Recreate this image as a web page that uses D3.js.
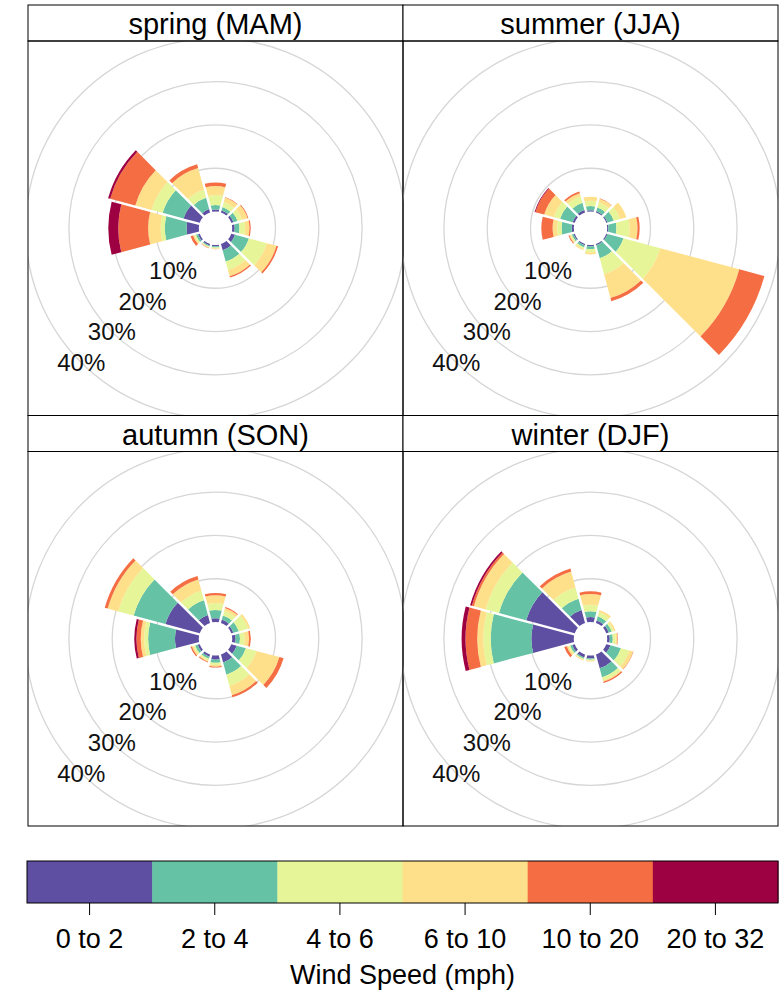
<!DOCTYPE html>
<html>
<head>
<meta charset="utf-8">
<script src="https://cdn.jsdelivr.net/npm/d3@7"></script>
<style>
  html, body { margin: 0; padding: 0; background: #fff; }
  svg { display: block; font-family: "Liberation Sans", Arial, Helvetica, sans-serif; }
</style>
</head>
<body>
<svg id="chart" width="780" height="990"></svg>
<script>
// ---------------- data ----------------
const seasons = ["spring (MAM)", "summer (JJA)", "autumn (SON)", "winter (DJF)"];
const directions = [0, 30, 60, 90, 120, 150, 180, 210, 240, 270, 300, 330];
const speedBins = ["0 to 2", "2 to 4", "4 to 6", "6 to 10", "10 to 20", "20 to 32"];
const binColors = ["#5E4FA2", "#66C2A5", "#E6F598", "#FEE08B", "#F46D43", "#9E0142"];
const ringTicks = [10, 20, 30, 40];
const ringLabels = ["10%", "20%", "30%", "40%"];
const legendTitle = "Wind Speed (mph)";

// frequency (%) per direction (rows, same order as directions) and speed bin (columns)
const springFreq = [
  [0.5, 1.0, 2.3, 2.1, 0.8, 0.0],
  [0.5, 0.8, 1.2, 1.1, 0.1, 0.0],
  [0.5, 1.0, 1.1, 1.3, 0.2, 0.0],
  [0.6, 1.1, 1.3, 1.0, 0.3, 0.0],
  [0.9, 3.3, 4.3, 2.3, 0.4, 0.0],
  [1.5, 2.7, 2.0, 1.5, 0.3, 0.0],
  [0.35, 0.25, 0.2, 0.15, 0.05, 0.0],
  [0.35, 0.25, 0.2, 0.15, 0.05, 0.0],
  [0.4, 0.5, 0.4, 0.3, 0.6, 0.0],
  [2.85, 5.0, 0.95, 2.9, 6.9, 2.3],
  [3.85, 5.0, 2.65, 3.9, 6.0, 0.5],
  [0.8, 2.7, 1.9, 5.2, 0.9, 0.0]
];
const summerFreq = [
  [0.3, 1.0, 1.2, 0.9, 0.0, 0.0],
  [0.3, 0.9, 1.2, 0.9, 0.1, 0.0],
  [0.3, 1.5, 1.5, 1.5, 0.0, 0.0],
  [0.3, 1.85, 3.05, 1.8, 0.5, 0.0],
  [0.3, 3.8, 8.8, 18.9, 6.0, 0.0],
  [0.3, 3.1, 3.8, 5.7, 0.8, 0.0],
  [0.3, 0.7, 0.7, 0.5, 0.0, 0.0],
  [0.3, 0.5, 0.4, 0.3, 0.0, 0.0],
  [0.3, 0.4, 0.3, 0.3, 0.2, 0.0],
  [0.5, 2.35, 1.0, 1.05, 2.6, 0.0],
  [0.5, 3.0, 1.5, 2.3, 2.1, 0.2],
  [0.6, 1.7, 1.5, 0.8, 0.4, 0.0]
];
const autumnFreq = [
  [0.9, 1.9, 1.6, 1.8, 0.5, 0.0],
  [0.8, 1.0, 1.1, 0.7, 0.2, 0.0],
  [0.5, 1.3, 2.2, 0.5, 0.0, 0.0],
  [0.8, 1.0, 1.1, 1.0, 0.4, 0.0],
  [1.3, 2.2, 2.5, 5.5, 1.0, 0.0],
  [1.9, 2.9, 2.7, 2.2, 0.5, 0.0],
  [1.0, 0.7, 0.5, 0.4, 0.2, 0.0],
  [0.5, 0.5, 0.4, 0.3, 0.2, 0.0],
  [0.5, 0.6, 0.4, 0.4, 0.3, 0.0],
  [5.5, 6.2, 0.9, 0.8, 1.0, 0.5],
  [8.2, 7.6, 3.7, 2.5, 0.7, 0.0],
  [1.9, 3.5, 2.3, 2.7, 0.8, 0.0]
];
const winterFreq = [
  [1.15, 1.35, 1.5, 2.5, 0.6, 0.0],
  [0.6, 1.0, 1.0, 0.5, 0.0, 0.0],
  [0.6, 0.7, 0.5, 0.4, 0.0, 0.0],
  [0.6, 0.7, 0.7, 0.4, 0.1, 0.0],
  [1.0, 2.5, 2.0, 0.9, 0.1, 0.0],
  [3.3, 2.1, 0.8, 0.3, 0.3, 0.0],
  [0.7, 0.3, 0.2, 0.2, 0.0, 0.0],
  [0.7, 0.3, 0.2, 0.2, 0.0, 0.0],
  [0.6, 0.5, 0.4, 0.4, 0.6, 0.0],
  [9.8, 9.4, 1.7, 1.4, 2.7, 0.9],
  [11.6, 6.5, 3.2, 2.8, 0.5, 0.4],
  [3.1, 2.7, 2.7, 3.8, 0.7, 0.0]
];
const seasonFreq = [springFreq, summerFreq, autumnFreq, winterFreq];

// ---------------- layout ----------------
const svg = d3.select("#chart");
const W = 780, H = 990;
svg.append("rect").attr("width", W).attr("height", H).attr("fill", "#fff");

const gridLeft = 28, gridTop = 5, panelW = 375, stripH = 36, panelH = 374.5;
const calmR = 16.7;
const r = d3.scaleLinear().domain([0, 40]).range([calmR, calmR + 4 * 43.3]);
const color = d3.scaleOrdinal().domain(speedBins).range(binColors);
const halfWidth = 15 * Math.PI / 180;

const arc = d3.arc()
  .padAngle(0.03)
  .padRadius(80);

seasons.forEach((name, si) => {
  const col = si % 2, row = Math.floor(si / 2);
  const x0 = gridLeft + col * panelW;
  const yStrip = gridTop + row * (stripH + panelH);
  const yPanel = yStrip + stripH;
  const cx = x0 + panelW / 2, cy = yPanel + panelH / 2;

  const g = svg.append("g");
  const clipId = "clip" + si;
  svg.append("clipPath").attr("id", clipId)
    .append("rect").attr("x", x0).attr("y", yPanel).attr("width", panelW).attr("height", panelH);

  const inner = g.append("g").attr("clip-path", `url(#${clipId})`);
  const plot = inner.append("g").attr("transform", `translate(${cx},${cy})`);

  // grid rings
  plot.selectAll("circle.ring").data(ringTicks).join("circle")
    .attr("class", "ring")
    .attr("r", d => r(d))
    .attr("fill", "none")
    .attr("stroke", "#d6d6d6")
    .attr("stroke-width", 1.3);

  // stacked wedges
  const rows = directions.map((dir, di) => {
    const o = { dir };
    speedBins.forEach((b, bi) => { o[b] = seasonFreq[si][di][bi]; });
    return o;
  });
  const stacked = d3.stack().keys(speedBins)(rows);
  stacked.forEach(layer => {
    plot.append("g").selectAll("path").data(layer.filter(d => d[1] - d[0] > 0)).join("path")
      .attr("fill", color(layer.key))
      .attr("d", d => {
        const a = d.data.dir * Math.PI / 180;
        return arc({
          innerRadius: r(d[0]),
          outerRadius: r(d[1]),
          startAngle: a - halfWidth,
          endAngle: a + halfWidth
        });
      });
  });

  // ring labels along 225 degrees
  const la = 225 * Math.PI / 180;
  plot.selectAll("text.rl").data(ringTicks).join("text")
    .attr("class", "rl")
    .attr("x", d => r(d) * Math.sin(la))
    .attr("y", d => -r(d) * Math.cos(la))
    .attr("text-anchor", "middle")
    .attr("dominant-baseline", "central")
    .attr("font-size", 24)
    .attr("fill", "#111")
    .text((d, i) => ringLabels[i]);

  // strip
  g.append("rect").attr("x", x0).attr("y", yStrip).attr("width", panelW).attr("height", stripH)
    .attr("fill", "#fff").attr("stroke", "#000").attr("stroke-width", 1);
  g.append("text")
    .attr("x", cx).attr("y", yStrip + stripH / 2 + 1)
    .attr("text-anchor", "middle").attr("dominant-baseline", "central")
    .attr("font-size", 29).attr("fill", "#000")
    .text(name);
  // panel border
  g.append("rect").attr("x", x0).attr("y", yPanel).attr("width", panelW).attr("height", panelH)
    .attr("fill", "none").attr("stroke", "#000").attr("stroke-width", 1);
});

// ---------------- legend ----------------
const legX0 = 27, legX1 = 778, legY = 861, legH = 42;
const lx = d3.scaleBand().domain(speedBins).range([legX0, legX1]).padding(0);
const leg = svg.append("g");
leg.selectAll("rect.key").data(speedBins).join("rect")
  .attr("class", "key")
  .attr("x", d => lx(d)).attr("y", legY)
  .attr("width", lx.bandwidth() + 0.5).attr("height", legH)
  .attr("fill", d => color(d));
leg.append("rect").attr("x", legX0).attr("y", legY).attr("width", legX1 - legX0).attr("height", legH)
  .attr("fill", "none").attr("stroke", "#000").attr("stroke-width", 1);

const axis = d3.axisBottom(lx).tickSize(12).tickPadding(14);
const axG = leg.append("g").attr("transform", `translate(0,${legY + legH})`).call(axis);
axG.select(".domain").remove();
axG.selectAll(".tick line").attr("stroke", "#000").attr("stroke-width", 1);
axG.selectAll(".tick text").attr("font-size", 27).attr("fill", "#000")
  .attr("font-family", "Liberation Sans, Arial, sans-serif");

leg.append("text")
  .attr("x", (legX0 + legX1) / 2).attr("y", 975)
  .attr("text-anchor", "middle").attr("dominant-baseline", "central")
  .attr("font-size", 27).attr("fill", "#000")
  .text(legendTitle);
</script>
</body>
</html>
